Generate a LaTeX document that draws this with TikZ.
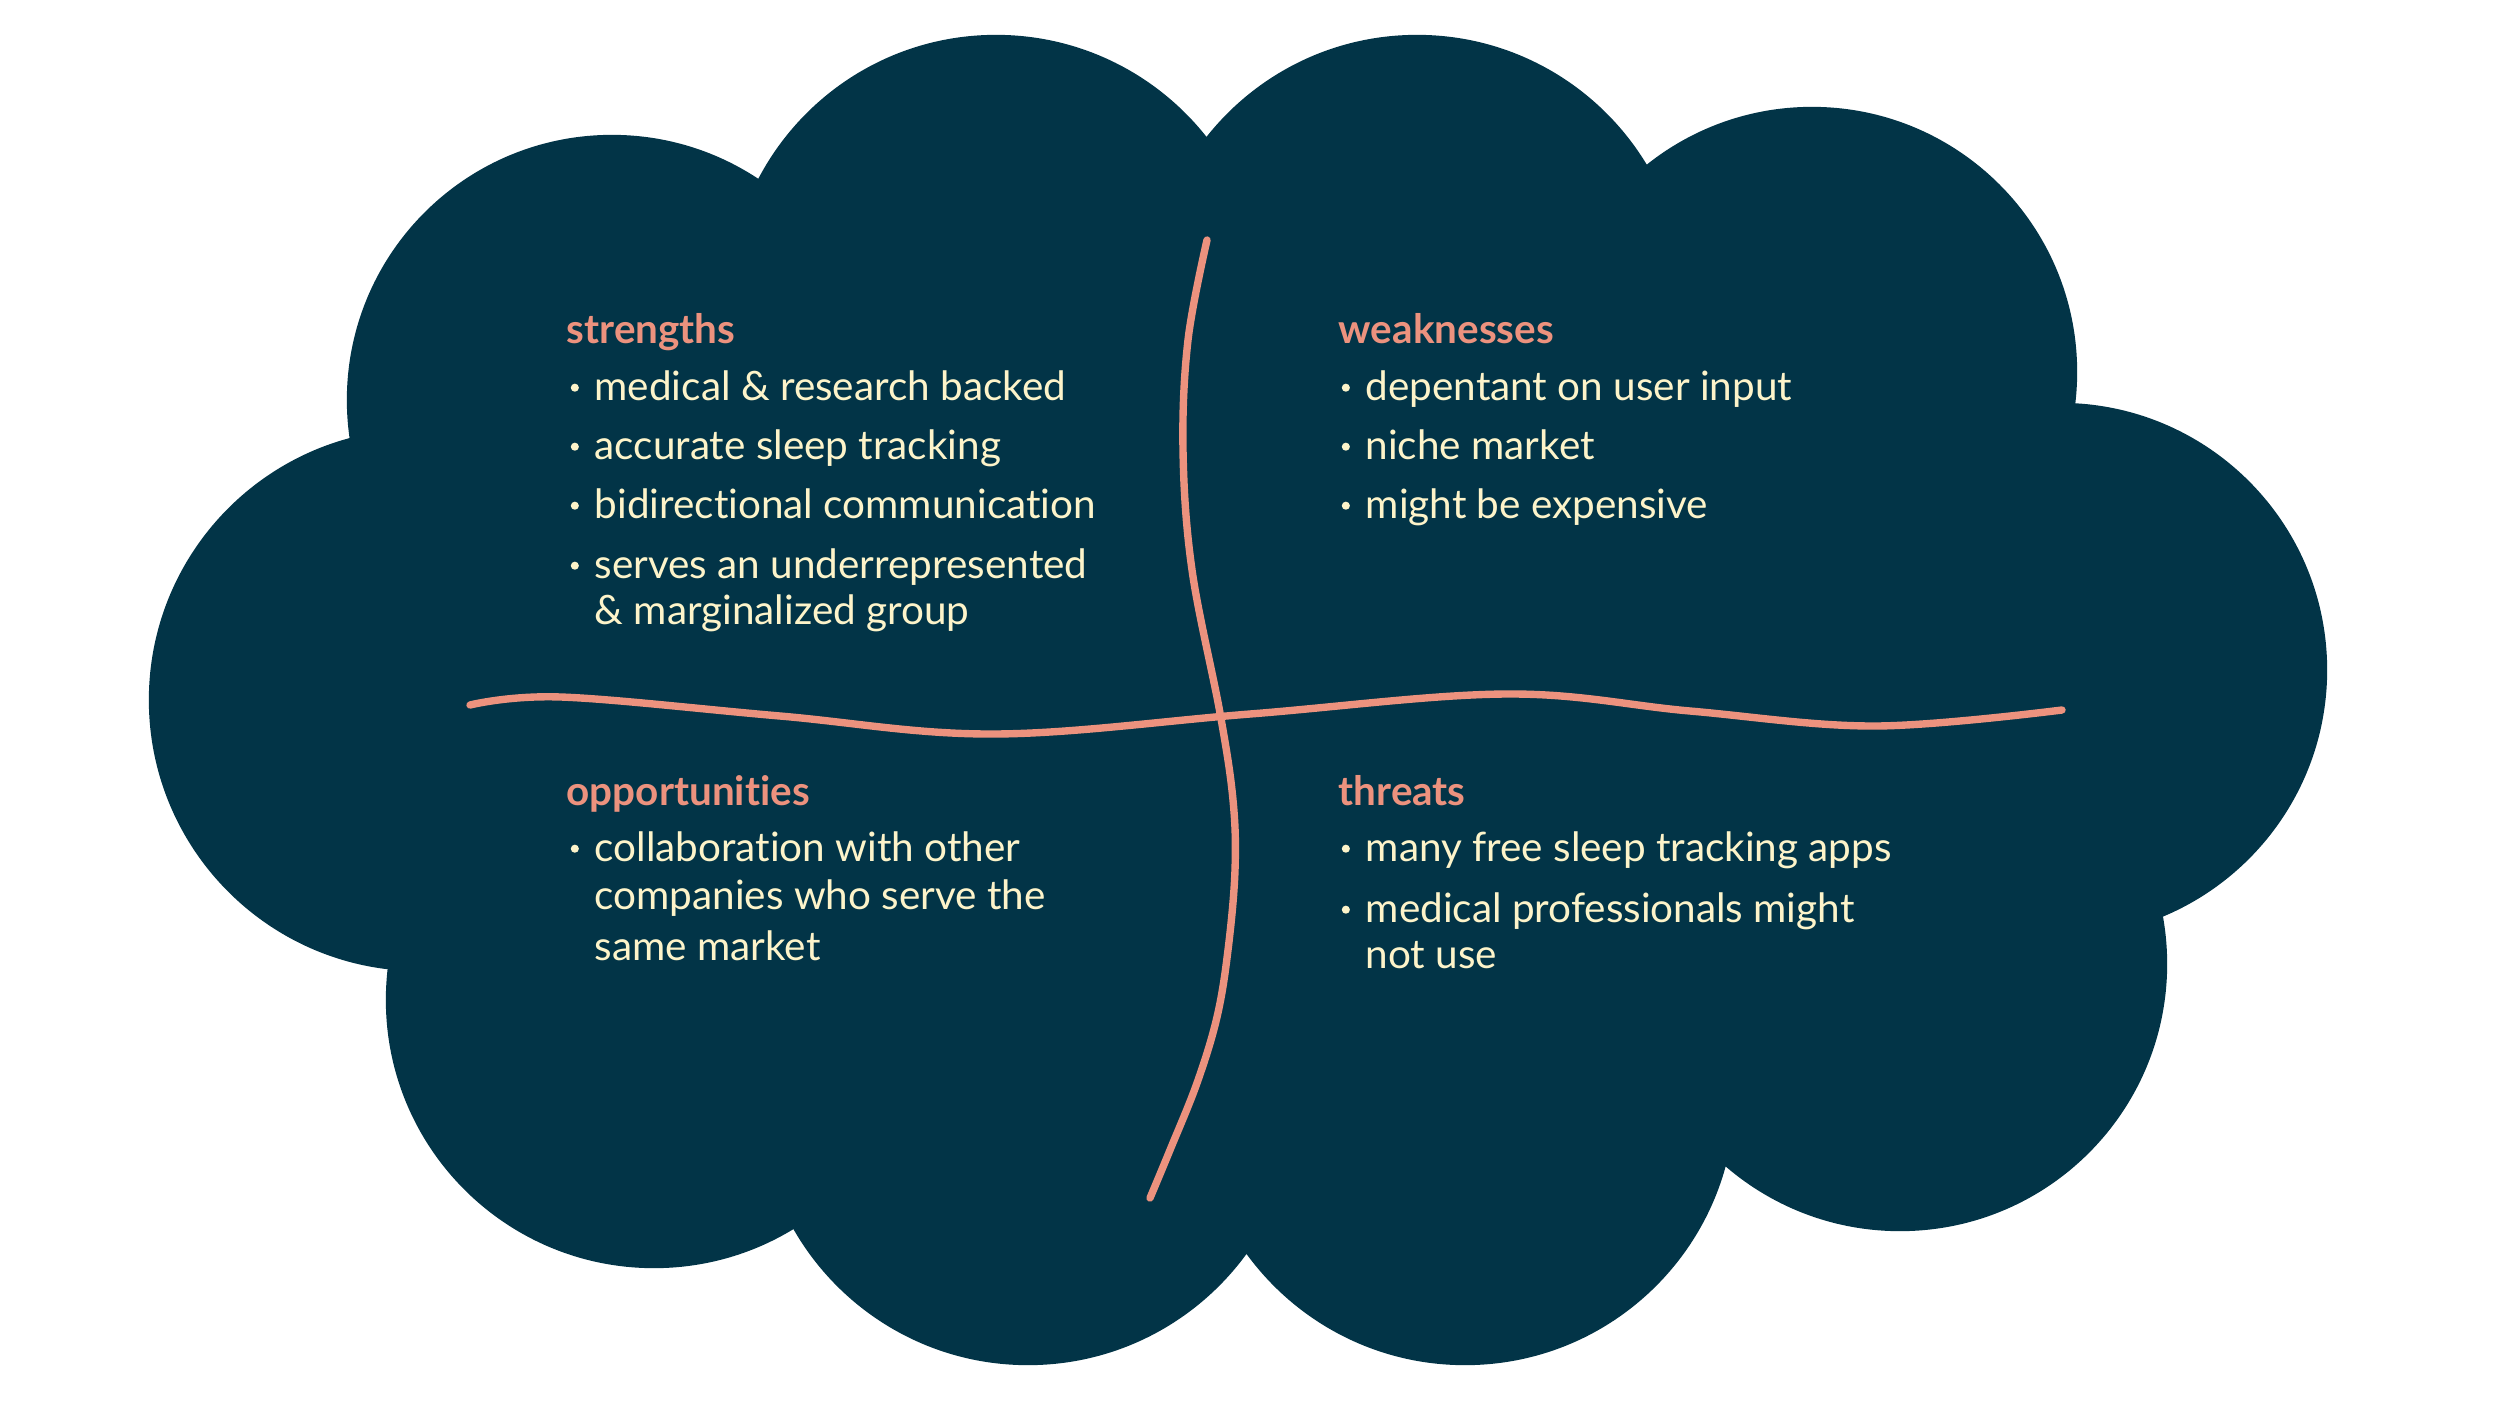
\documentclass[tikz,border=0pt]{standalone}
\usepackage{fontspec}
\setmainfont{Lato}[Ligatures=NoCommon]
\usetikzlibrary{positioning}
\definecolor{navy}{RGB}{2,52,71}
\definecolor{salmon}{RGB}{236,146,126}
\definecolor{cream}{RGB}{253,244,202}
\tikzset{
  lobe/.style  ={fill=navy},
  split/.style ={line width=2.1pt, salmon, line cap=round},
  head/.style  ={anchor=base west, inner sep=0pt, text=salmon,
                 font=\fontsize{11.5pt}{14pt}\selectfont\bfseries},
  point/.style ={anchor=base west, inner sep=0pt, text=cream,
                 font=\fontsize{11.5pt}{14pt}\selectfont},
  dot/.style   ={circle, fill=cream, inner sep=0pt, minimum size=2.3pt,
                 left=4.1pt, yshift=3.5pt},
}

\begin{document}
\begin{tikzpicture}[x=0.01cm, y=-0.01cm]
  \useasboundingbox (0,0) rectangle (2500,1406);
  \fill[white] (0,0) rectangle (2500,1406);

  % cloud
  \fill[lobe] (420,700) circle[radius=2.71cm]
              (612,400) circle[radius=2.65cm]
              (996,303) circle[radius=2.68cm]
              (1417,303) circle[radius=2.68cm]
              (1812,372) circle[radius=2.65cm]
              (2060,670) circle[radius=2.67cm]
              (1900,964) circle[radius=2.67cm]
              (1465,1095) circle[radius=2.70cm]
              (1028,1095) circle[radius=2.70cm]
              (654,1000) circle[radius=2.68cm];
  \fill[lobe] (420,700) -- (612,400) -- (996,303) -- (1417,303) -- (1812,372)
    -- (2060,670) -- (1900,964) -- (1465,1095) -- (1028,1095) -- (654,1000) -- cycle;

  % the two dividing strokes
  \draw[split] plot[smooth, tension=0.6] coordinates {(1207,240) (1188,340) (1183,450)
    (1192,570) (1220,713) (1233,800) (1235,870) (1228,950) (1217,1017) (1197,1083)
    (1170,1150) (1150,1198)};
  \draw[split] plot[smooth, tension=0.6] coordinates {(470,705) (561,697) (780,716)
    (994,734) (1250,714) (1506,694) (1690,711) (1875,726) (2062,710)};

  % strengths
  \node[head] (strengths) at (566,343) {strengths};
  \node[point] (s1) at (594,400) {medical \& research backed};
  \node[point] (s2) at (594,459) {accurate sleep tracking};
  \node[point] (s3) at (594,518) {bidirectional communication};
  \node[point] (s4) at (594,578) {serves an underrepresented};
  \node[point] (s4b) at (594,624) {\& marginalized group};
  \node[dot] (ds1) at (s1.base west) {};
  \node[dot] (ds2) at (s2.base west) {};
  \node[dot] (ds3) at (s3.base west) {};
  \node[dot] (ds4) at (s4.base west) {};

  % weaknesses
  \node[head] (weaknesses) at (1338,343) {weaknesses};
  \node[point] (w1) at (1365,400) {depentant on user input};
  \node[point] (w2) at (1365,459) {niche market};
  \node[point] (w3) at (1365,518) {might be expensive};
  \node[dot] (dw1) at (w1.base west) {};
  \node[dot] (dw2) at (w2.base west) {};
  \node[dot] (dw3) at (w3.base west) {};

  % opportunities
  \node[head] (opportunities) at (566,805) {opportunities};
  \node[point] (o1) at (594,861) {collaboration with other};
  \node[point] (o1b) at (594,909) {companies who serve the};
  \node[point] (o1c) at (594,960) {same market};
  \node[dot] (do1) at (o1.base west) {};

  % threats
  \node[head] (threats) at (1338,805) {threats};
  \node[point] (t1) at (1365,861) {many free sleep tracking apps};
  \node[point] (t2) at (1365,922) {medical professionals might};
  \node[point] (t2b) at (1365,968) {not use};
  \node[dot] (dt1) at (t1.base west) {};
  \node[dot] (dt2) at (t2.base west) {};
\end{tikzpicture}
\end{document}
